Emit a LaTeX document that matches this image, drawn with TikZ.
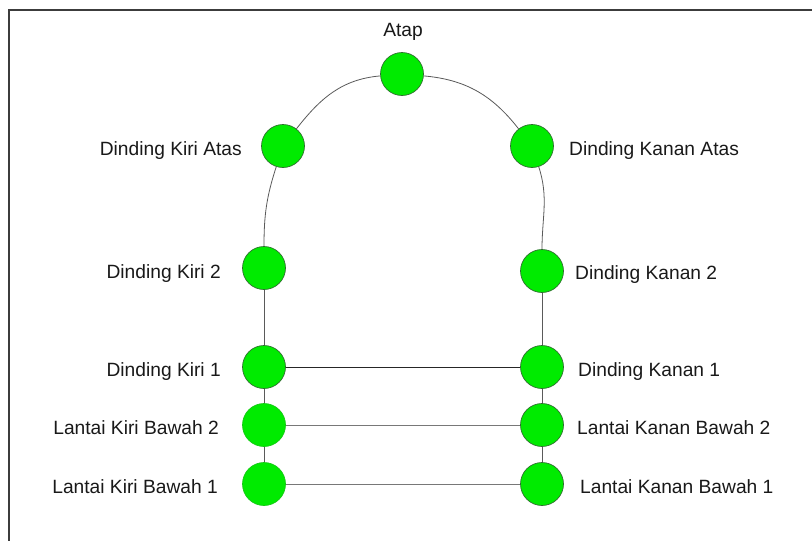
\documentclass[tikz,border=0pt]{standalone}
\usepackage{fontspec}
\setmainfont{Liberation Sans}
\definecolor{nodegreen}{RGB}{0,235,0}
\definecolor{nodeedge}{RGB}{45,110,45}
\definecolor{nodeedgelight}{RGB}{20,200,20}
\definecolor{linegray}{RGB}{90,90,90}
\definecolor{lightline}{RGB}{120,120,120}
\definecolor{framegray}{RGB}{60,60,60}
\begin{document}
\begin{tikzpicture}[x=1pt,y=-1pt,
  vert/.style={circle,fill=nodegreen,draw=nodeedge,line width=0.7pt,minimum size=43pt,inner sep=0pt},
  vertsoft/.style={vert,draw=nodeedgelight},
  lbl/.style={inner sep=0pt,font=\fontsize{19.2}{23}\selectfont,text=black!90},
  conn/.style={draw=linegray,line width=0.8pt},
  connsoft/.style={draw=lightline,line width=0.8pt},
  conndark/.style={draw=black!85,line width=0.8pt}]
\useasboundingbox (0,0) rectangle (812,541);
\fill[white] (0,0) rectangle (812,541);
\draw[framegray,line width=1.8pt] (9,541) -- (9,10) -- (812,10);

% nodes
\node[vert] (atap) at (402,74) {};
\node[vert] (kiA) at (283,146) {};
\node[vert] (kaA) at (532,146) {};
\node[vert] (ki2) at (264,268) {};
\node[vert] (ka2) at (542,271) {};
\node[vert] (ki1) at (264,367) {};
\node[vert] (ka1) at (542,367) {};
\node[vertsoft] (kb2) at (264,425) {};
\node[vert] (kab2) at (542,425) {};
\node[vertsoft] (kb1) at (264,484) {};
\node[vert] (kab1) at (542,484) {};

% labels
\node[lbl,anchor=base] (latap) at (403,36.5) {Atap};
\node[lbl,anchor=base east] (lkiA) at (242,155) {Dinding Kiri Atas};
\node[lbl,anchor=base west] (lkaA) at (569,155) {Dinding Kanan Atas};
\node[lbl,anchor=base east] (lki2) at (221,278) {Dinding Kiri 2};
\node[lbl,anchor=base west] (lka2) at (575,279) {Dinding Kanan 2};
\node[lbl,anchor=base east] (lki1) at (221,376.5) {Dinding Kiri 1};
\node[lbl,anchor=base west] (lka1) at (578,376.5) {Dinding Kanan 1};
\node[lbl,anchor=base east] (lkb2) at (219,434.5) {Lantai Kiri Bawah 2};
\node[lbl,anchor=base west] (lkab2) at (577,434.5) {Lantai Kanan Bawah 2};
\node[lbl,anchor=base east] (lkb1) at (218,493) {Lantai Kiri Bawah 1};
\node[lbl,anchor=base west] (lkab1) at (580,493) {Lantai Kanan Bawah 1};

% connectors
\draw[conn] (atap) to[out=185,in=52] (kiA);
\draw[conn] (atap) to[out=-5,in=128] (kaA);
\draw[conn] (kiA) to[out=-108,in=90] (ki2);
\draw[conn] (kaA) to[out=-72,in=90] (ka2);
\draw[conn] (ki2) -- (ki1);
\draw[conn] (ka2) -- (ka1);
\draw[conn] (ki1) -- (kb2);
\draw[conn] (kb2) -- (kb1);
\draw[conn] (ka1) -- (kab2);
\draw[conn] (kab2) -- (kab1);
\draw[conndark] (ki1) -- (ka1);
\draw[connsoft] (kb2) -- (kab2);
\draw[connsoft] (kb1) -- (kab1);
\end{tikzpicture}
\end{document}
